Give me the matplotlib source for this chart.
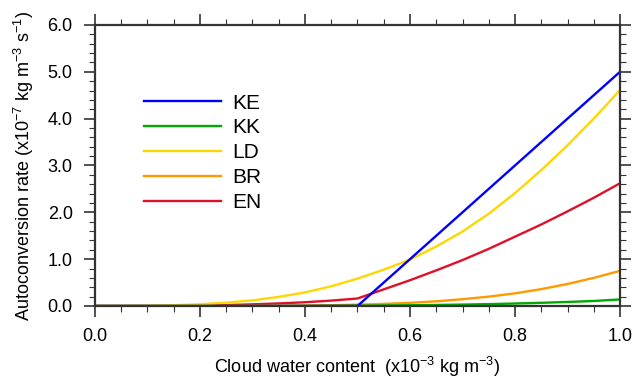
import numpy as np
import matplotlib.pyplot as plt

plt.rcParams['font.family'] = ['Liberation Sans', 'DejaVu Sans']
plt.rcParams['mathtext.fontset'] = 'custom'
plt.rcParams['mathtext.rm'] = 'Liberation Sans'

# cloud water content (x1e-3 kg m-3)
x = [0.0, 0.05, 0.1, 0.15, 0.2, 0.25, 0.3, 0.35, 0.4, 0.45, 0.5,
     0.55, 0.6, 0.65, 0.7, 0.75, 0.8, 0.85, 0.9, 0.95, 1.0]

# autoconversion rates (x1e-7 kg m-3 s-1)
ke = [0, 0, 0, 0, 0, 0, 0, 0, 0, 0, 0,
      0.5, 1.0, 1.5, 2.0, 2.5, 3.0, 3.5, 4.0, 4.5, 5.0]
kk = [0, 0, 0, 0, 0, 0, 0, 0, 0.002, 0.004, 0.007,
      0.011, 0.016, 0.022, 0.03, 0.04, 0.053, 0.068, 0.086, 0.107, 0.14]
ld = [0, 0.0006, 0.005, 0.016, 0.037, 0.072, 0.12, 0.195, 0.29, 0.42, 0.585,
      0.775, 0.99, 1.27, 1.59, 1.97, 2.41, 2.9, 3.43, 4.0, 4.61]
br = [0, 0, 0, 0, 0.001, 0.001, 0.003, 0.006, 0.01, 0.017, 0.028,
      0.045, 0.068, 0.1, 0.145, 0.2, 0.27, 0.36, 0.47, 0.6, 0.75]
en = [0, 0, 0, 0.002, 0.008, 0.02, 0.035, 0.055, 0.08, 0.115, 0.16,
      0.355, 0.55, 0.76, 0.98, 1.22, 1.48, 1.74, 2.02, 2.31, 2.62]

series = [("KE", ke, "#0000ff"), ("KK", kk, "#00aa00"), ("LD", ld, "#ffd700"),
          ("BR", br, "#ff9900"), ("EN", en, "#e0102a")]

fig = plt.figure(figsize=(6.33, 3.78), dpi=100)
ax = fig.add_axes([0.150, 0.1905, 0.8295, 0.7435])

# draw in reverse so KE sits on top
for name, vals, col in series[::-1]:
    ax.plot(x, vals, color=col, lw=1.7, label=name)

ax.set_xlim(0, 1)
ax.set_ylim(0, 6)
ax.set_xticks(np.arange(0, 1.01, 0.2))
ax.set_xticks(np.arange(0, 1.01, 0.05), minor=True)
ax.set_yticks(np.arange(0, 6.01, 1.0))
ax.set_yticks(np.arange(0, 6.01, 0.2), minor=True)
ax.set_xticklabels([f"{v:.1f}" for v in np.arange(0, 1.01, 0.2)])
ax.set_yticklabels([f"{v:.1f}" for v in np.arange(0, 6.01, 1.0)])
ax.tick_params(which='both', direction='out', top=True, right=True,
               labelsize=13, color='#333333')
ax.tick_params(which='major', length=8, width=1.2)
ax.tick_params(which='minor', length=4, width=0.8)
ax.tick_params(axis='x', pad=8)
ax.tick_params(axis='y', pad=8)
for s in ax.spines.values():
    s.set_linewidth(1.6)
    s.set_color('#333333')

ax.set_xlabel("Cloud water content  (x10$^{-3}$ kg m$^{-3}$)", fontsize=13, labelpad=7)
ax.set_ylabel("Autoconversion rate (x10$^{-7}$ kg m$^{-3}$ s$^{-1}$)", fontsize=13, labelpad=8)

handles, labels = ax.get_legend_handles_labels()
ax.legend(handles[::-1], labels[::-1], frameon=False, fontsize=15,
          loc='center left', bbox_to_anchor=(0.058, 0.545), handlelength=3.7,
          handletextpad=0.55, labelspacing=0.28)

fig.savefig("out.png", dpi=100)
